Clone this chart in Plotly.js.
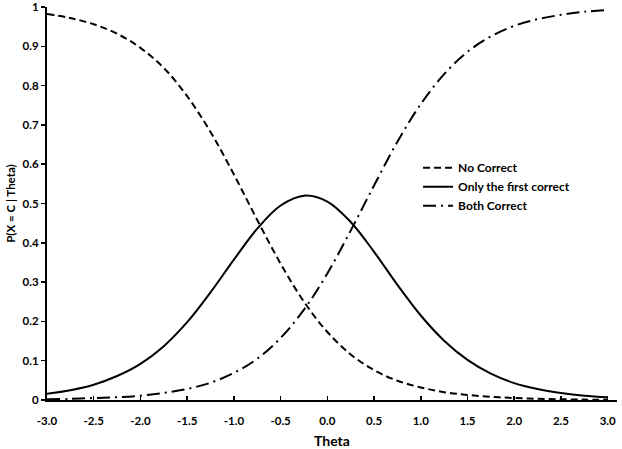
<!DOCTYPE html>
<html>
<head>
<meta charset="utf-8">
<script src="https://cdn.plot.ly/plotly-3.0.1.min.js"></script>
<style>html,body{margin:0;padding:0;background:#fff;}#chart{width:622px;height:449px;}</style>
</head>
<body>
<div id="chart"></div>
<script>
// Theta values (x axis)
const theta = [-3.0, -2.75, -2.5, -2.25, -2.0, -1.75, -1.5, -1.25, -1.0, -0.75, -0.5, -0.25, 0.0,
               0.25, 0.5, 0.75, 1.0, 1.25, 1.5, 1.75, 2.0, 2.25, 2.5, 2.75, 3.0];
// Series values
const noCorrect = [0.982, 0.972, 0.956, 0.932, 0.896, 0.845, 0.773, 0.682, 0.574, 0.458, 0.347, 0.250, 0.173,
                   0.116, 0.076, 0.049, 0.032, 0.020, 0.013, 0.008, 0.005, 0.003, 0.002, 0.001, 0.001];
const onlyFirst = [0.016, 0.025, 0.039, 0.061, 0.092, 0.137, 0.198, 0.274, 0.357, 0.436, 0.495, 0.520, 0.505,
                   0.453, 0.377, 0.293, 0.215, 0.151, 0.102, 0.067, 0.043, 0.028, 0.018, 0.011, 0.007];
const bothCorrect = [0.002, 0.003, 0.005, 0.007, 0.011, 0.018, 0.028, 0.044, 0.069, 0.105, 0.158, 0.230, 0.322,
                     0.431, 0.546, 0.657, 0.753, 0.829, 0.886, 0.925, 0.952, 0.969, 0.980, 0.988, 0.992];
const seriesNames = ["No Correct", "Only the first correct", "Both Correct"];
const xTicks = [-3.0, -2.5, -2.0, -1.5, -1.0, -0.5, 0.0, 0.5, 1.0, 1.5, 2.0, 2.5, 3.0];
const yTicks = [0, 0.1, 0.2, 0.3, 0.4, 0.5, 0.6, 0.7, 0.8, 0.9, 1];

const FONT = "Lato, 'Open Sans', sans-serif";

const traces = [
  {x: theta, y: noCorrect, name: seriesNames[0], mode: "lines",
   line: {color: "#000", width: 2, dash: "7px,4px", shape: "spline"}},
  {x: theta, y: onlyFirst, name: seriesNames[1], mode: "lines",
   line: {color: "#000", width: 2, dash: "solid", shape: "spline"}},
  {x: theta, y: bothCorrect, name: seriesNames[2], mode: "lines",
   line: {color: "#000", width: 2, dash: "13px,5px,2px,5px", shape: "spline"}}
];

const layout = {
  width: 622, height: 449,
  margin: {l: 47, r: 5, t: 7, b: 49},
  paper_bgcolor: "#fff", plot_bgcolor: "#fff",
  font: {family: FONT, color: "#000", size: 11, weight: 700},
  showlegend: true,
  legend: {x: 0.651, y: 0.628, xanchor: "left", yanchor: "top",
           bgcolor: "rgba(0,0,0,0)", font: {family: FONT, size: 12, color: "#000", weight: 700},
           tracegroupgap: 0},
  xaxis: {
    range: [-3.0, 3.1], tickvals: xTicks, ticktext: xTicks.map(v => v.toFixed(1)),
    showgrid: false, zeroline: false, showline: true, linecolor: "#000", linewidth: 2,
    ticks: "inside", ticklen: 4, tickwidth: 1.5, tickcolor: "#000",
    ticklabelstandoff: 9,
    tickfont: {family: FONT, size: 11.5, color: "#000", weight: 700},
    title: {text: "Theta", font: {family: FONT, size: 14, color: "#000", weight: 700}, standoff: 18}
  },
  yaxis: {
    range: [0, 1], tickvals: yTicks, ticktext: yTicks.map(v => String(v)),
    showgrid: false, zeroline: false, showline: true, linecolor: "#000", linewidth: 2,
    ticks: "outside", ticklen: 4, tickwidth: 1.5, tickcolor: "#000",
    ticklabeloverflow: "allow",
    tickfont: {family: FONT, size: 11.5, color: "#000", weight: 700},
    title: {text: "P(X = C | Theta)", font: {family: FONT, size: 11.5, color: "#000", weight: 700}, standoff: 5}
  }
};

Plotly.newPlot("chart", traces, layout, {displayModeBar: false, staticPlot: true});
</script>
</body>
</html>
